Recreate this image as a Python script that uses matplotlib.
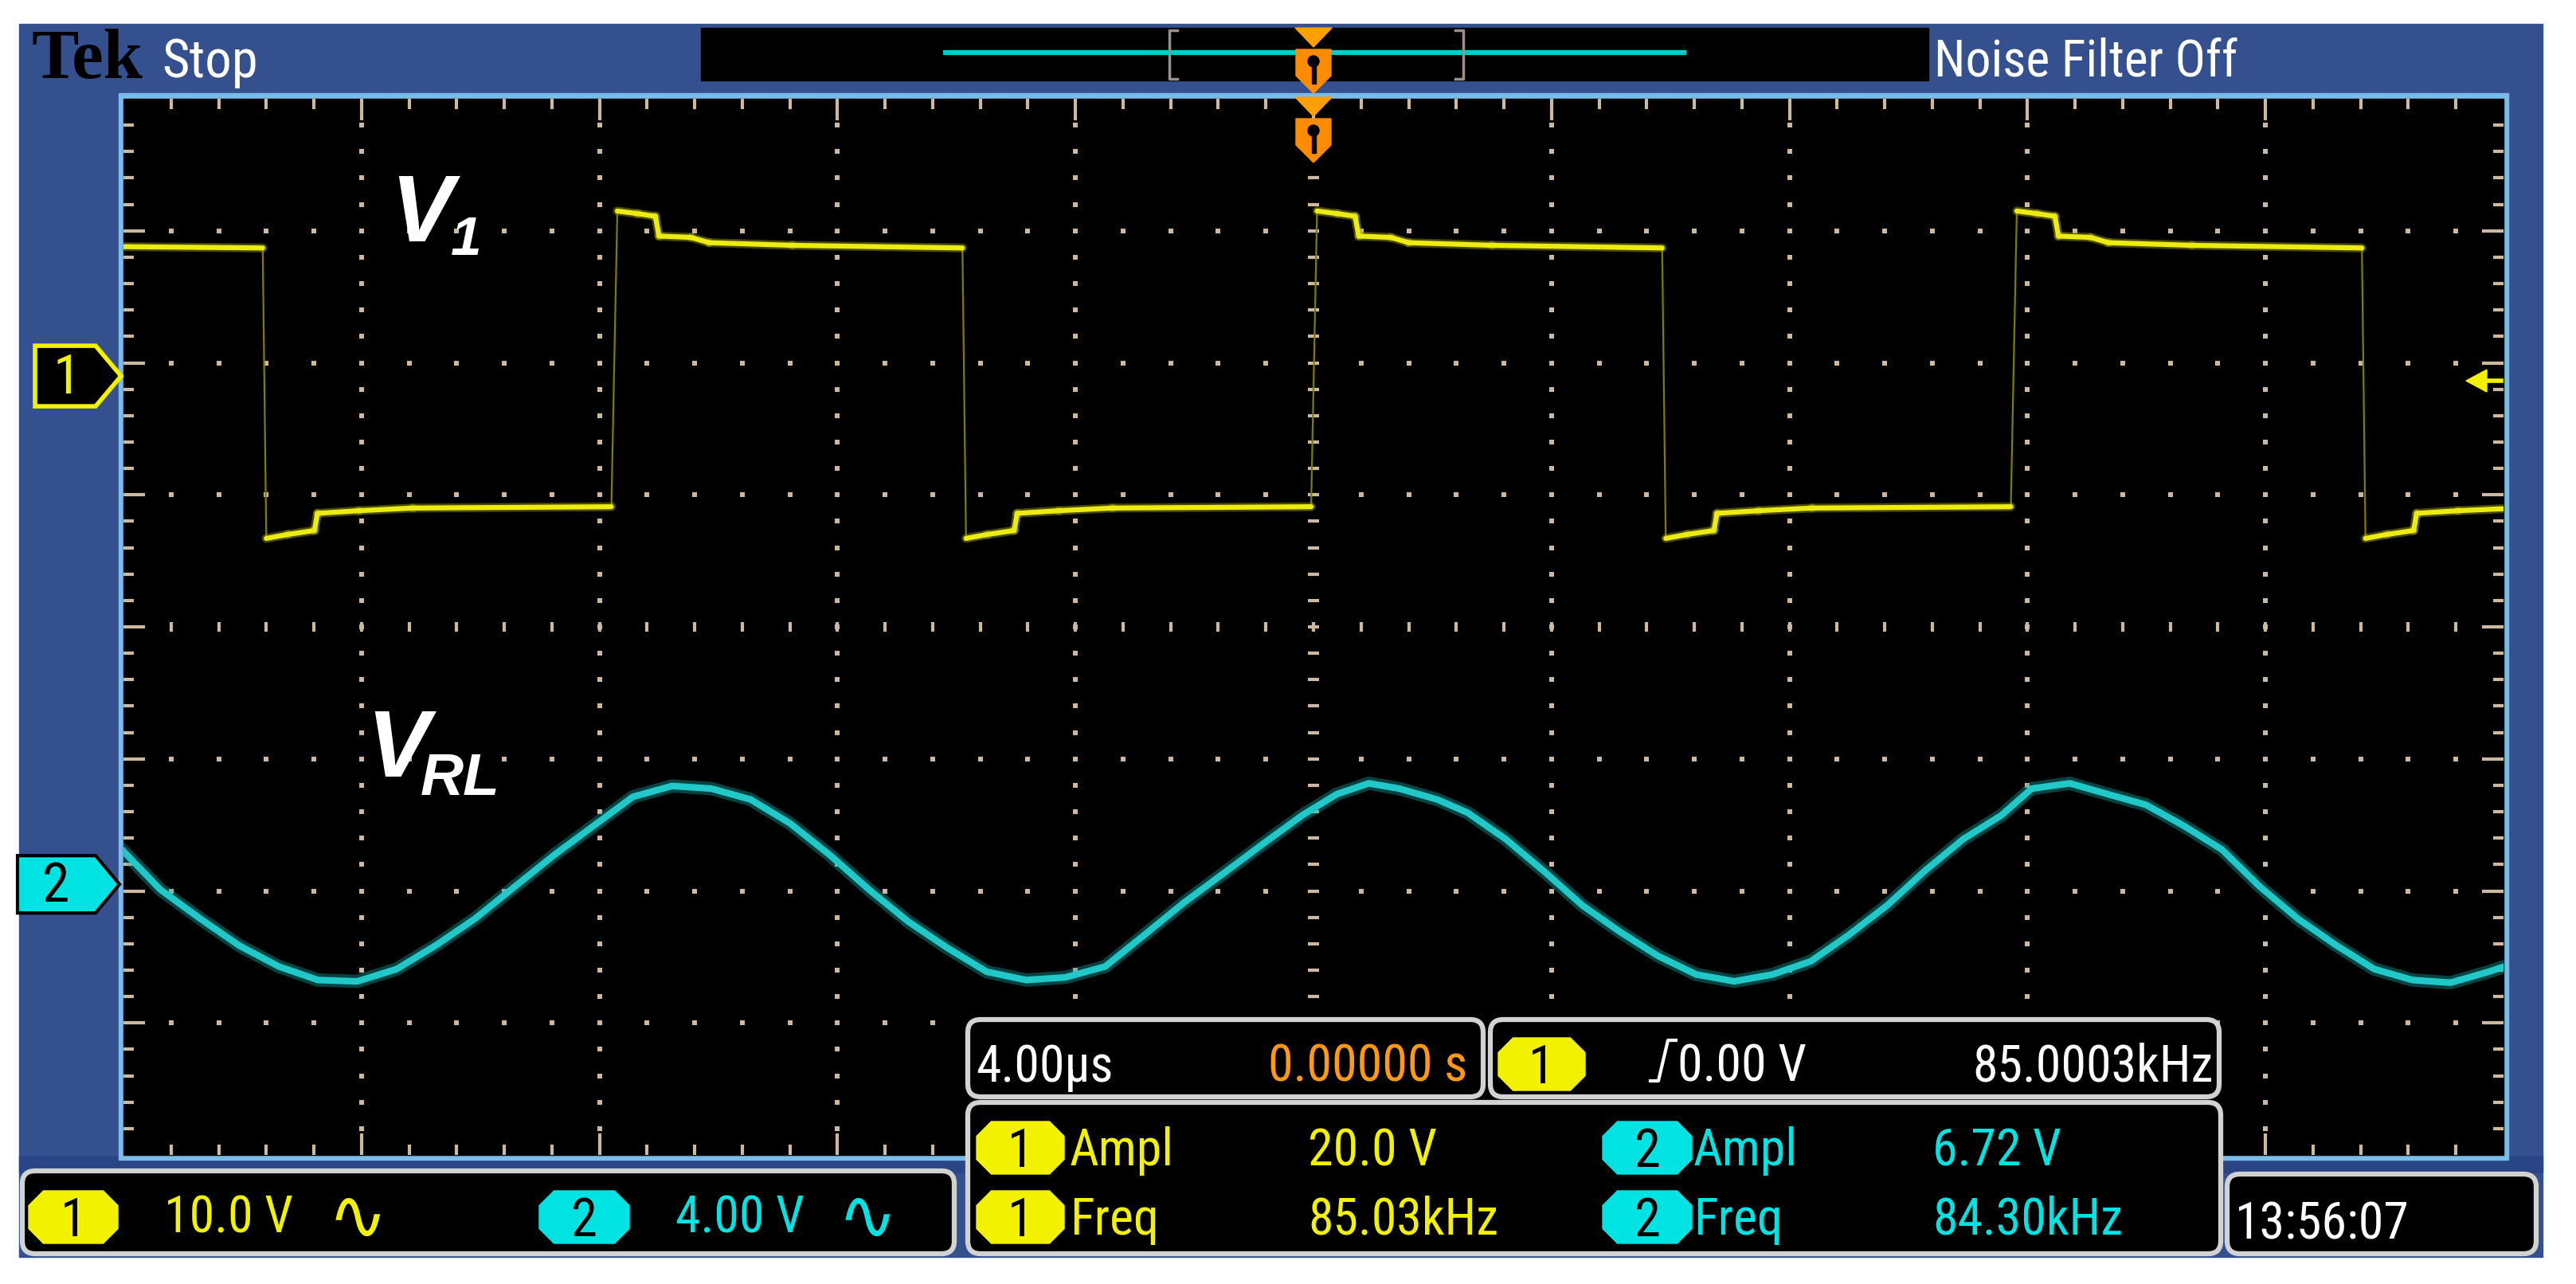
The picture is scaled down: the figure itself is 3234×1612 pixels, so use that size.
import numpy as np
import matplotlib
matplotlib.use('Agg')
import matplotlib.pyplot as plt
from matplotlib.patches import Rectangle, Polygon, FancyBboxPatch, Circle
from matplotlib.collections import LineCollection
from matplotlib import font_manager

# ---------------- data ----------------
# channel 1 (V1): corner points of the square wave, time in us, volts
v1_t = [-20.0, -17.66, -17.60, -17.24, -16.79, -16.74, -16.04, -15.14,
        -11.80, -11.70, -11.36, -11.06, -11.00, -10.46, -10.16, -8.76,
        -5.90, -5.84, -5.48, -5.03, -4.98, -4.28, -3.38,
        -0.04, 0.06, 0.40, 0.70, 0.76, 1.30, 1.60, 3.00,
        5.86, 5.92, 6.28, 6.73, 6.78, 7.48, 8.38,
        11.72, 11.82, 12.16, 12.46, 12.52, 13.06, 13.36, 14.76,
        17.62, 17.68, 18.04, 18.49, 18.54, 19.24, 20.0]
v1_v = [9.8, 9.7, -12.3, -12.0, -11.7, -10.4, -10.2, -10.0,
        -9.9, 12.5, 12.3, 12.1, 10.6, 10.5, 10.1, 9.9,
        9.7, -12.3, -12.0, -11.7, -10.4, -10.2, -10.0,
        -9.9, 12.5, 12.3, 12.1, 10.6, 10.5, 10.1, 9.9,
        9.7, -12.3, -12.0, -11.7, -10.4, -10.2, -10.0,
        -9.9, 12.5, 12.3, 12.1, 10.6, 10.5, 10.1, 9.9,
        9.7, -12.3, -12.0, -11.7, -10.4, -10.2, -10.05]

# channel 2 (V_RL), time in us, volts
v2_t = [-20.0, -19.38, -18.71, -18.06, -17.39, -16.73, -16.07, -15.41, -14.75, -14.09,
        -13.43, -12.76, -12.10, -11.44, -10.78, -10.12, -9.46, -8.80, -8.13, -7.47,
        -6.81, -6.15, -5.49, -4.83, -4.17, -3.50, -2.84, -2.18, -1.52, -0.86,
        -0.19, 0.39, 0.93, 1.44, 2.08, 2.59, 3.23, 3.87, 4.52, 5.16,
        5.79, 6.43, 7.07, 7.72, 8.36, 9.00, 9.64, 10.27, 10.92, 11.56,
        12.07, 12.71, 13.35, 13.99, 14.63, 15.27, 15.91, 16.55, 17.19, 17.83,
        18.47, 19.11, 19.75, 20.0]
v2_v = [1.0, -0.16, -1.04, -1.85, -2.49, -2.90, -2.94, -2.57, -1.85, -1.04,
        -0.08, 0.89, 1.77, 2.65, 2.98, 2.90, 2.57, 1.85, 0.89, -0.16,
        -1.13, -1.93, -2.65, -2.90, -2.82, -2.49, -1.53, -0.56, 0.32, 1.21,
        2.09, 2.73, 3.06, 2.90, 2.57, 2.17, 1.37, 0.40, -0.64, -1.45,
        -2.17, -2.73, -2.94, -2.73, -2.33, -1.53, -0.64, 0.40, 1.37, 2.09,
        2.90, 3.06, 2.73, 2.41, 1.77, 1.05, -0.08, -1.05, -1.85, -2.57,
        -2.90, -2.98, -2.65, -2.5]

ch1_scale, ch2_scale = 10.0, 4.0      # V/div
ch1_pos, ch2_pos = 1.9, -1.95         # div
time_div = 4.0                        # us/div

ch_labels = ['10.0 V', '4.00 V']
time_label, trig_time = '4.00\u00b5s', '0.00000 s'
trig_level, trig_freq = '0.00 V', '85.0003kHz'
meas_names = ['Ampl', 'Freq']
meas_ch1 = ['20.0 V', '85.03kHz']
meas_ch2 = ['6.72 V', '84.30kHz']
clock = '13:56:07'

# ---------------- look ----------------
W, H = 3234, 1612
GL, GR, GT, GB = 155, 3143, 124, 1450       # graticule in pixels
DX, DY = (GR - GL) / 10, (GB - GT) / 8
BLUE = '#35508f'
TAN = '#cdb9a0'
YEL, CYAN, ORANGE = '#f2f200', '#00e3e3', '#ff8c00'

# scope font is a narrow one; take the narrowest that is installed
names = {f.name for f in font_manager.fontManager.ttflist}
SF = dict(fontfamily='Liberation Sans')
for cand in ('Liberation Sans Narrow', 'Roboto Condensed', 'Open Sans Condensed'):
    if cand in names:
        SF = dict(fontfamily=cand)
        break
FS = 46

fig = plt.figure(figsize=(W / 100, H / 100), dpi=100)
fig.patch.set_facecolor('white')

bg = fig.add_axes([0, 0, 1, 1], zorder=0)
ax = fig.add_axes([GL / W, 1 - GB / H, (GR - GL) / W, (GB - GT) / H], zorder=1)
fg = fig.add_axes([0, 0, 1, 1], zorder=2)
for a in (bg, fg):
    a.set_xlim(0, W)
    a.set_ylim(H, 0)
    a.axis('off')

# frame + top bar
bg.add_patch(Rectangle((24, 30), 3192 - 24, 1578 - 30, color=BLUE))
bg.add_patch(Rectangle((24, 1452), 3192 - 24, 20, color='#2a4585'))
bg.add_patch(Rectangle((880, 35), 2421 - 880, 66, color='black'))
bg.plot([1184, 2117], [66, 66], color='#00cccc', lw=4.5, solid_capstyle='butt')
for xb, d in ((1468, 1), (1837, -1)):
    bg.plot([xb + 10 * d, xb, xb, xb + 10 * d], [38, 38, 99, 99], color='#9a8f8a', lw=2.5)
bg.text(40, 98, 'Tek', fontfamily='Liberation Serif', fontweight='bold', fontsize=64,
        color='black', va='baseline')
bg.text(203, 97, 'Stop', color='white', fontsize=FS + 2, va='baseline', **SF)
bg.text(2428, 95, 'Noise Filter Off', color='white', fontsize=FS, va='baseline', **SF)

# graticule
bg.add_patch(Rectangle((GL - 6, GT - 7), GR - GL + 12, GB - GT + 13, color='#78bde8'))
bg.add_patch(Rectangle((GL, GT), GR - GL, GB - GT, color='black'))

dots_x, dots_y = [], []
for k in range(1, 10):
    x = GL + k * DX
    for j in range(1, 40):
        if k != 5:
            dots_x.append(x)
            dots_y.append(GT + j * DY / 5)
for j in range(1, 8):
    y = GT + j * DY
    for i in range(1, 50):
        if j != 4 and i % 5:
            dots_x.append(GL + i * DX / 5)
            dots_y.append(y)
bg.scatter(dots_x, dots_y, s=13, marker='s', color=TAN, linewidths=0)

ticks = []
for i in range(1, 50):
    x = GL + i * DX / 5
    ln = 27 if i % 5 == 0 else 13
    ticks += [[(x, GT), (x, GT + ln)], [(x, GB), (x, GB - ln)],
              [(x, GT + 4 * DY - 6), (x, GT + 4 * DY + 6)]]
for j in range(1, 40):
    y = GT + j * DY / 5
    ln = 27 if j % 5 == 0 else 13
    ticks += [[(GL, y), (GL + ln, y)], [(GR, y), (GR - ln, y)],
              [(GL + 5 * DX - 7, y), (GL + 5 * DX + 7, y)]]
bg.add_collection(LineCollection(ticks, colors=TAN, linewidths=3))

# traces
ax.set_xlim(-5 * time_div, 5 * time_div)
ax.set_ylim(-4, 4)
ax.axis('off')

t1 = np.array(v1_t)
y1 = np.array(v1_v) / ch1_scale + ch1_pos
pts = np.column_stack([t1, y1])
segs = np.stack([pts[:-1], pts[1:]], axis=1)
edge = np.abs(np.diff(v1_v)) > 5
ax.add_collection(LineCollection(segs[edge], colors='#7d7d00', linewidths=1.6))
ax.add_collection(LineCollection(segs[~edge], colors='#a0a000', linewidths=8,
                                 alpha=0.45, capstyle='round'))
ax.add_collection(LineCollection(segs[~edge], colors='#ecec12', linewidths=4.5,
                                 capstyle='round'))

y2 = np.array(v2_v) / ch2_scale + ch2_pos
ax.plot(v2_t, y2, color='#0fa8a8', lw=12, alpha=0.4, solid_joinstyle='round')
ax.plot(v2_t, y2, color='#20c8c8', lw=6, solid_joinstyle='round')

# waveform labels
lab = dict(fontfamily='Liberation Sans', fontweight='bold', fontstyle='italic',
           color='white', va='baseline')
fg.text(490, 303, 'V', fontsize=85, **lab)
fg.text(566, 320, '1', fontsize=50, **lab)
fg.text(460, 975, 'V', fontsize=85, **lab)
fg.text(528, 998, 'RL', fontsize=54, **lab)

# channel ground markers
yc1 = GT + (4 - ch1_pos) * DY
yc2 = GT + (4 - ch2_pos) * DY
fg.add_patch(Polygon([(44, yc1 - 38), (120, yc1 - 38), (152, yc1), (120, yc1 + 38),
                      (44, yc1 + 38)], closed=True, fc='black', ec=YEL, lw=4))
fg.text(84, yc1 + 22, '1', color=YEL, fontsize=50, ha='center', va='baseline', **SF)
fg.add_patch(Polygon([(22, yc2 - 36), (120, yc2 - 36), (150, yc2), (120, yc2 + 36),
                      (22, yc2 + 36)], closed=True, fc=CYAN, ec='black', lw=3))
fg.text(70, yc2 + 22, '2', color='black', fontsize=50, ha='center', va='baseline', **SF)
# trigger level arrow on the right edge
fg.add_patch(Polygon([(3096, yc1 + 6), (3122, yc1 - 8), (3122, yc1 + 20)], closed=True,
                     color=YEL))
fg.plot([3120, 3140], [yc1 + 6, yc1 + 6], color=YEL, lw=4)


# trigger position markers
def trig_marker(x, y0):
    fg.add_patch(Polygon([(x - 23, y0), (x + 23, y0), (x, y0 + 24)], color='#ffa000'))
    fg.add_patch(Polygon([(x - 22, y0 + 27), (x + 22, y0 + 27), (x + 22, y0 + 60),
                          (x, y0 + 82), (x - 22, y0 + 60)], color=ORANGE))
    fg.add_patch(Circle((x, y0 + 42), 7, color='black'))
    fg.add_patch(Rectangle((x - 2.5, y0 + 42), 5, 28, color='black'))


xc = GL + 5 * DX
trig_marker(xc, 35)
trig_marker(xc, 122)


# readout panels
def panel(x0, y0, x1, y1):
    fg.add_patch(FancyBboxPatch((x0, y0), x1 - x0, y1 - y0,
                                boxstyle='round,pad=0,rounding_size=16',
                                fc='black', ec='#d2d2d2', lw=4.5))


def badge(x0, x1, yc, color, label, h=66):
    c = h * 0.28
    y0, y1 = yc - h / 2, yc + h / 2
    fg.add_patch(Polygon([(x0 + c, y0), (x1 - c, y0), (x1, y0 + c), (x1, y1 - c),
                          (x1 - c, y1), (x0 + c, y1), (x0, y1 - c), (x0, y0 + c)],
                         closed=True, color=color))
    fg.text((x0 + x1) / 2, yc + 24, label, color='black', fontsize=FS + 2, ha='center',
            va='baseline', **SF)


def stext(x, y, s, color, ha='left'):
    fg.text(x, y, s, color=color, fontsize=FS, ha=ha, va='baseline', **SF)


def wave_sign(x, y, color):
    fg.text(x, y, '\u223f', color=color, fontsize=64, fontfamily='DejaVu Sans',
            va='baseline')


panel(28, 1470, 1198, 1574)
badge(36, 148, 1528, YEL, '1')
stext(206, 1548, ch_labels[0], YEL)
wave_sign(412, 1556, YEL)
badge(677, 790, 1528, CYAN, '2')
stext(848, 1548, ch_labels[1], CYAN)
wave_sign(1052, 1556, CYAN)

panel(1215, 1280, 1862, 1377)
stext(1225, 1358, time_label, 'white')
stext(1842, 1358, trig_time, '#ff9a10', ha='right')

panel(1871, 1280, 2786, 1377)
badge(1881, 1990, 1336, YEL, '1')
fg.plot([2072, 2082, 2094, 2104], [1357, 1357, 1306, 1306], color='white', lw=3)
stext(2106, 1358, trig_level, 'white')
stext(2779, 1358, trig_freq, 'white', ha='right')

panel(1215, 1384, 2788, 1574)
for row, yb in enumerate((1463, 1550)):
    yc = yb - 22
    badge(1226, 1336, yc, YEL, '1')
    stext(1343, yb, meas_names[row], YEL)
    stext(1642, yb, meas_ch1[row], YEL)
    badge(2012, 2124, yc, CYAN, '2')
    stext(2126, yb, meas_names[row], CYAN)
    stext(2426, yb, meas_ch2[row], CYAN)

panel(2796, 1474, 3184, 1574)
stext(2806, 1555, clock, 'white')

fig.savefig('out.png', dpi=100, facecolor='white')
